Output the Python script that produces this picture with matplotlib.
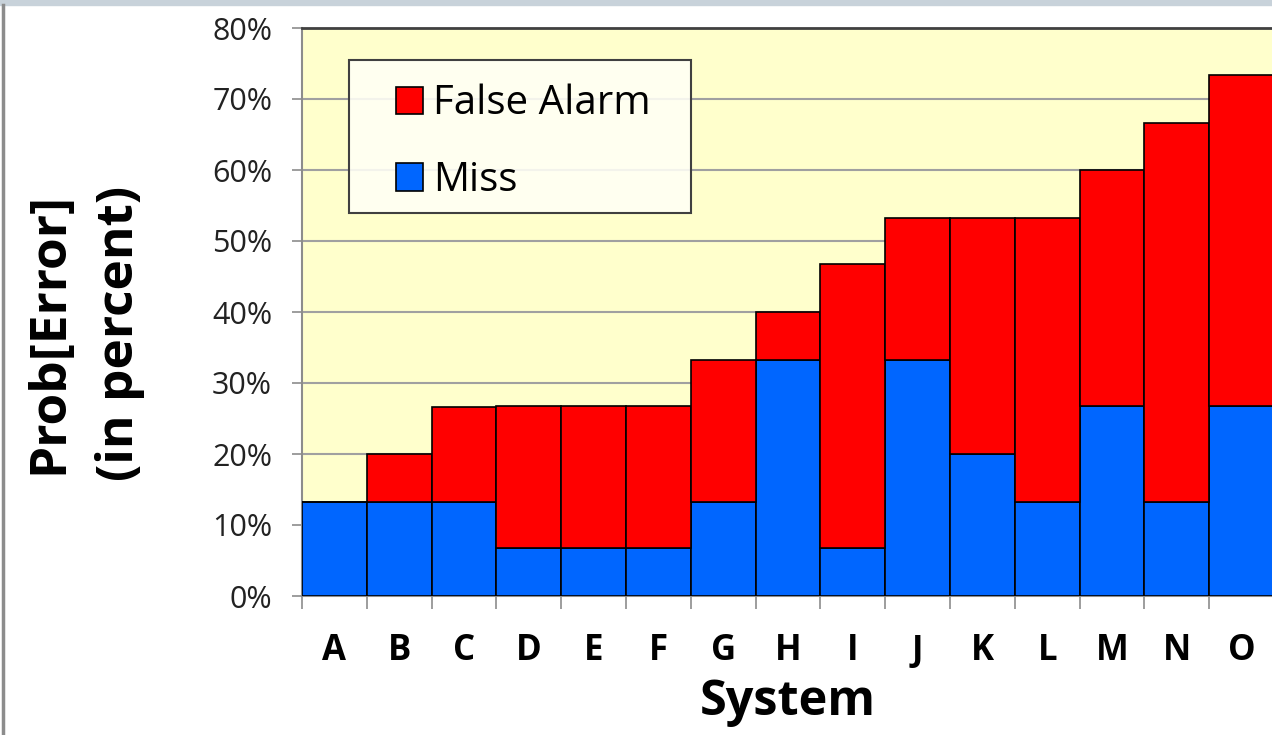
import matplotlib
matplotlib.use("Agg")
import matplotlib.pyplot as plt
import numpy as np
from matplotlib.ticker import FixedLocator, PercentFormatter

# values (percent)
systems = ["A", "B", "C", "D", "E", "F", "G", "H", "I", "J", "K", "L", "M", "N", "O"]
miss = [13.3, 13.3, 13.3, 6.7, 6.7, 6.7, 13.3, 33.3, 6.7, 33.3, 20.0, 13.3, 26.7, 13.3, 26.7]
false_alarm = [0.0, 6.7, 13.3, 20.0, 20.0, 20.0, 20.0, 6.7, 40.0, 20.0, 33.3, 40.0, 33.3, 53.3, 46.7]
y_ticks = [0, 10, 20, 30, 40, 50, 60, 70, 80]

plt.rcParams["font.family"] = ["Open Sans", "DejaVu Sans"]

fig = plt.figure(figsize=(12.72, 7.35), dpi=100)
fig.patch.set_facecolor("white")

# frame bits of the original slide: grey band on top, grey rule on the left
fig.add_artist(plt.Rectangle((0, 1 - 5 / 735), 1, 5 / 735, transform=fig.transFigure,
                             color="#c8d2da", zorder=0))
fig.add_artist(plt.Line2D([3.5 / 1272, 3.5 / 1272], [0, 1 - 5 / 735], transform=fig.transFigure,
                          color="#8c8c8c", linewidth=2.5))

ax = fig.add_axes([302 / 1272, 139 / 735, 972 / 1272, 568 / 735])
ax.set_facecolor("#ffffcc")

x = np.arange(len(systems))
ax.bar(x, miss, width=1.0, color="#0066ff", edgecolor="black", linewidth=1.2,
       label="Miss", zorder=3)
ax.bar(x, false_alarm, width=1.0, bottom=miss, color="#ff0000", edgecolor="black",
       linewidth=1.2, label="False Alarm", zorder=3)

ax.set_xlim(-0.5, len(systems) - 0.5)
ax.set_ylim(0, 80)

ax.yaxis.set_major_locator(FixedLocator(y_ticks))
ax.yaxis.set_major_formatter(PercentFormatter(decimals=0))
ax.grid(axis="y", color="#a0a0a0", linewidth=1.5, zorder=1)
ax.tick_params(axis="y", direction="out", length=7.5, width=1.2, color="#8c8c8c",
               labelsize=22, labelcolor="#222222", pad=14)

ax.set_xticks(x)
ax.set_xticklabels(systems, fontweight="bold")
ax.set_xticks(np.arange(len(systems) + 1) - 0.5, minor=True)
ax.tick_params(axis="x", which="major", length=0, labelsize=25, pad=27)
ax.tick_params(axis="x", which="minor", direction="out", length=9, width=1.2,
               color="#8c8c8c")

for side in ["left", "bottom"]:
    ax.spines[side].set_color("#8c8c8c")
    ax.spines[side].set_linewidth(1.5)
ax.spines["top"].set_color("#404040")
ax.spines["top"].set_linewidth(2)
ax.spines["right"].set_visible(False)

ax.set_xlabel("System", fontsize=35, fontweight="bold", labelpad=6)
fig.text(85 / 1272, 1 - 333 / 735, "Prob[Error]\n(in percent)", rotation=90,
         fontsize=37, fontweight="bold", ha="center", va="center",
         multialignment="center", linespacing=1.55)

# legend box drawn separately so its size matches the original
box = plt.Rectangle((349 / 1272, 1 - 213 / 735), 342 / 1272, 153 / 735,
                    transform=fig.transFigure, facecolor="#fffff6", alpha=0.88,
                    edgecolor="none", zorder=4)
ax.add_artist(box)
edge = plt.Rectangle((349 / 1272, 1 - 213 / 735), 342 / 1272, 153 / 735,
                     transform=fig.transFigure, facecolor="none", edgecolor="#404040",
                     linewidth=1.5, zorder=4.5)
ax.add_artist(edge)

handles, labels = ax.get_legend_handles_labels()
leg = ax.legend(handles[::-1], labels[::-1], loc="upper left",
                bbox_to_anchor=(396 / 1272, 1 - 84 / 735), bbox_transform=fig.transFigure,
                fontsize=29, frameon=False, handlelength=0.67, handleheight=0.67,
                handletextpad=0.25, labelspacing=0.9, borderpad=0, borderaxespad=0)
leg.set_zorder(5)

fig.savefig("out.png", dpi=100)
